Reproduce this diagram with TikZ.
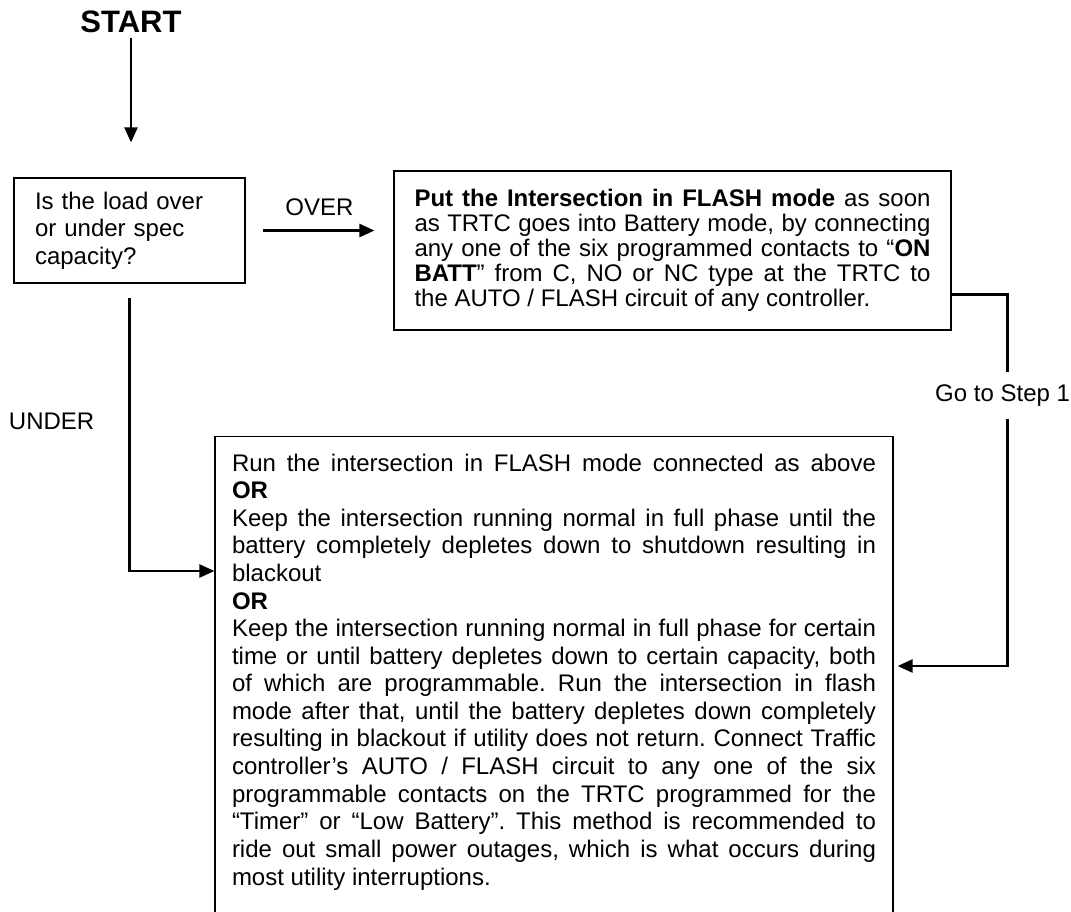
\documentclass[tikz,border=0pt]{standalone}
\usepackage{fontspec}
\setmainfont{Liberation Sans}
\usetikzlibrary{arrows.meta,calc}
\setlength{\parindent}{0pt}
\frenchspacing
\tikzset{
  box/.style={draw, line width=0.6pt, inner xsep=10.5pt, font=\fontsize{12}{13.8}\selectfont},
  arr/.style={line width=1.2pt, -{Triangle[length=7.5pt,width=6.5pt]}},
  lbl/.style={font=\fontsize{12}{13.8}\selectfont, inner sep=2pt},
}

\begin{document}
\begin{tikzpicture}[x=0.5pt, y=-0.5pt]
\useasboundingbox (0,0) rectangle (1071,911);
\clip (0,0) rectangle (1071,911);

\node[font=\bfseries\fontsize{15.5}{18}\selectfont, inner sep=0pt, anchor=base] (start) at (131,32) {START};

\node[box, text width=94.5pt, minimum height=52.5pt, align=left] (load) at (129.5,230.5)
  {Is the load over\\ or under spec\\ capacity?};

\node[box, font=\fontsize{12}{12.5}\selectfont, text width=258pt, inner xsep=10.25pt, inner ysep=8pt, minimum height=79.5pt, align=justify] (flash) at (672.5,250.5)
  {\textbf{Put the Intersection in FLASH mode} as soon\linebreak
   as TRTC goes into Battery mode, by connecting\linebreak
   any one of the six programmed contacts to “\textbf{ON}\linebreak
   \textbf{BATT}” from C, NO or NC type at the TRTC to\linebreak
   the AUTO / FLASH circuit of any controller.};

\node[box, text width=322pt, inner xsep=8.5pt, inner ysep=8.5pt, align=justify, anchor=north] (modes) at (554,436)
  {Run the intersection in FLASH mode connected as above\linebreak
   \textbf{OR}\\
   Keep the intersection running normal in full phase until the\linebreak
   battery completely depletes down to shutdown resulting in\linebreak
   blackout\\
   \textbf{OR}\\
   Keep the intersection running normal in full phase for certain\linebreak
   time or until battery depletes down to certain capacity, both\linebreak
   of which are programmable. Run the intersection in flash\linebreak
   mode after that, until the battery depletes down completely\linebreak
   resulting in blackout if utility does not return. Connect Traffic\linebreak
   controller’s AUTO / FLASH circuit to any one of the six\linebreak
   programmable contacts on the TRTC programmed for the\linebreak
   “Timer” or “Low Battery”. This method is recommended to\linebreak
   ride out small power outages, which is what occurs during\linebreak
   most utility interruptions.\\
   \mbox{}};

% connectors
\coordinate (underin) at ($(modes.north west)+(0,135)$);
\coordinate (stepout) at ($(flash.south east)+(0,-36)$);
\coordinate (stepturn) at ($(stepout)+(56,0)$);
\coordinate (stepin) at ($(modes.north east)+(0,230)$);

\draw[arr, shorten <=2.5pt, shorten >=17.5pt] (start.south) -- (start.south |- load.north);
\draw[arr, shorten <=8.5pt, shorten >=9.5pt] (load.east) -- node[lbl, above=5pt] (over) {OVER} (load.east -| flash.west);
\draw[arr, shorten <=7pt] (load.south) |- node[lbl, pos=0.24, left=15pt] (under) {UNDER} (underin);
\draw[arr, shorten >=2pt] (stepout) -- (stepturn)
  -- node[lbl, fill=white, pos=0.272, inner ysep=6.3pt, xshift=-2.5pt] (gostep) {Go to Step 1} (stepturn |- stepin) -- (stepin);
\end{tikzpicture}
\end{document}
